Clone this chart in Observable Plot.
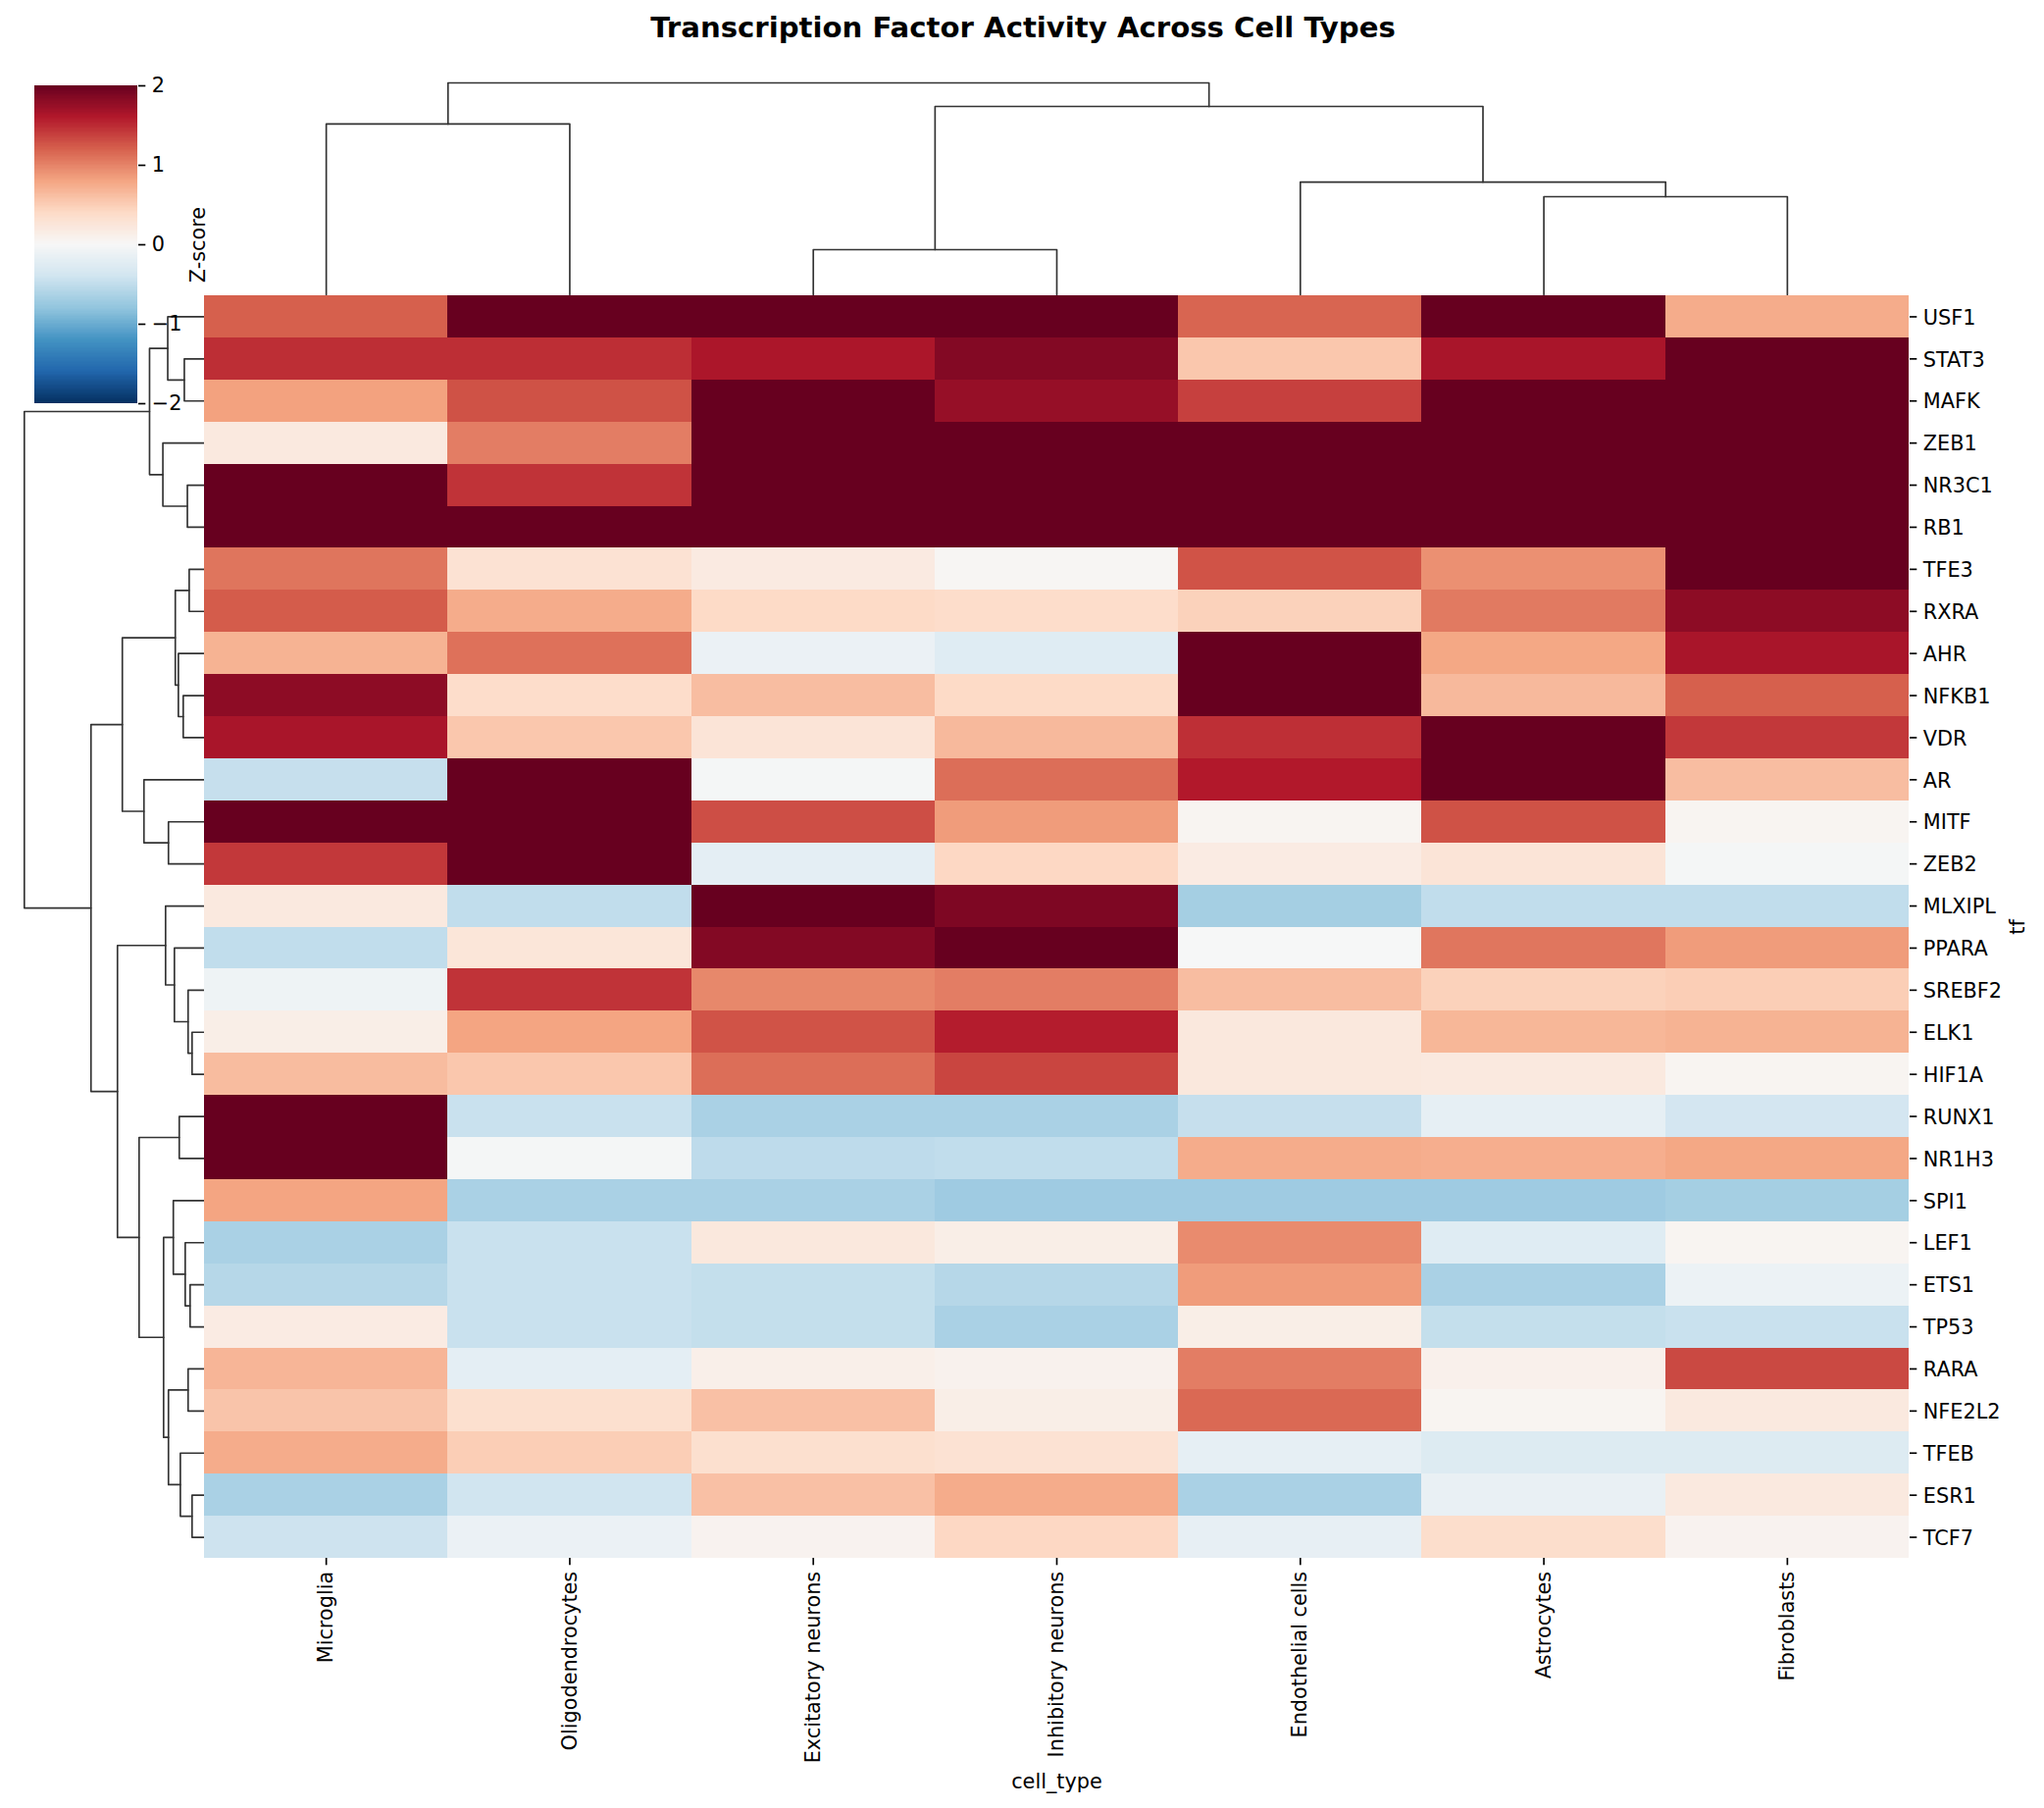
<!DOCTYPE html>
<html>
<head>
<meta charset="utf-8">
<script src="https://cdn.jsdelivr.net/npm/d3@7"></script>
<script src="https://cdn.jsdelivr.net/npm/@observablehq/plot@0.6"></script>
<style>
  html, body { margin: 0; padding: 0; background: #fff; }
  #fig { position: relative; width: 2084px; height: 1843px; overflow: hidden; font-family: "DejaVu Sans", sans-serif; color: #000; }
  #fig > .panel { position: absolute; }
  #fig svg { max-width: none; overflow: visible; background: transparent; display: block; }
  h1 { position: absolute; left: 0; width: 2086px; top: 8px; margin: 0; text-align: center; font: bold 29.17px/40px "DejaVu Sans", sans-serif; }
</style>
</head>
<body>
<div id="fig"><h1>Transcription Factor Activity Across Cell Types</h1></div>
<script>
const cellTypes = ["Microglia","Oligodendrocytes","Excitatory neurons","Inhibitory neurons","Endothelial cells","Astrocytes","Fibroblasts"];
const tfs = ["USF1","STAT3","MAFK","ZEB1","NR3C1","RB1","TFE3","RXRA","AHR","NFKB1","VDR","AR","MITF","ZEB2","MLXIPL","PPARA","SREBF2","ELK1","HIF1A","RUNX1","NR1H3","SPI1","LEF1","ETS1","TP53","RARA","NFE2L2","TFEB","ESR1","TCF7"];

const microglia   = [1.2,1.48,.82,.2,2,2,1.08,1.22,.7,1.8,1.65,-.47,2,1.42,.2,-.5,-.1,.13,.63,2,2,.8,-.65,-.57,.17,.68,.57,.75,-.65,-.42];
const oligodendro = [2,1.48,1.28,1.03,1.45,2,.3,.75,1.1,.37,.55,2,2,2,-.5,.25,1.45,.8,.55,-.45,-.03,-.65,-.45,-.45,-.45,-.2,.33,.5,-.4,-.13];
const excitatory  = [2,1.63,2,2,2,2,.18,.4,-.13,.62,.27,-.03,1.3,-.2,2,1.85,.97,1.27,1.12,-.65,-.52,-.65,.22,-.48,-.48,.12,.6,.33,.6,.07];
const inhibitory  = [2,1.85,1.75,2,2,2,.03,.37,-.25,.4,.65,1.12,.85,.42,1.88,2,1.03,1.58,1.35,-.65,-.5,-.72,.13,-.57,-.65,.08,.13,.3,.75,.42];
const endothelial = [1.17,.55,1.38,2,2,2,1.27,.47,2,2,1.47,1.6,.05,.17,-.68,-.01,.62,.22,.22,-.47,.75,-.72,.95,.85,.13,1.03,1.15,-.18,-.65,-.17];
const astrocytes  = [2,1.65,2,2,2,2,.92,1.05,.78,.65,2,2,1.28,.27,-.5,1.07,.47,.67,.2,-.18,.73,-.72,-.25,-.65,-.48,.1,.05,-.27,-.15,.36];
const fibroblasts = [.75,2,2,2,2,2,2,1.8,1.65,1.2,1.42,.62,.05,-.03,-.5,.85,.5,.7,.05,-.37,.78,-.68,.05,-.12,-.45,1.33,.2,-.27,.2,.07];
const columns = [microglia,oligodendro,excitatory,inhibitory,endothelial,astrocytes,fibroblasts];

// Dendrograms: [height, left, right]; a leaf is a label.
const colTree = [1,
  [.806,"Microglia","Oligodendrocytes"],
  [.889,
    [.213,"Excitatory neurons","Inhibitory neurons"],
    [.532,"Endothelial cells",[.463,"Astrocytes","Fibroblasts"]]]];
const rowTree = [1,
  [.305,
    [.204,"USF1",[.112,"STAT3","MAFK"]],
    [.231,"ZEB1",[.095,"NR3C1","RB1"]]],
  [.630,
    [.456,
      [.162,[.085,"TFE3","RXRA"],[.145,"AHR",[.118,"NFKB1","VDR"]]],
      [.336,"AR",[.200,"MITF","ZEB2"]]],
    [.483,
      [.216,"MLXIPL",[.167,"PPARA",[.091,"SREBF2",[.069,"ELK1","HIF1A"]]]],
      [.363,
        [.140,"RUNX1","NR1H3"],
        [.227,
          [.173,"SPI1",[.107,"LEF1",[.080,"ETS1","TP53"]]],
          [.200,[.091,"RARA","NFE2L2"],[.134,"TFEB",[.069,"ESR1","TCF7"]]]]]]]];

const rdbuStops = ["#053061","#2166ac","#4393c3","#92c5de","#d1e5f0","#f7f7f7","#fddbc7","#f4a582","#d6604d","#b2182b","#67001f"];
const rdbuDomain = d3.range(11).map(i => -2 + i * 0.4);
const colorbarTicks = [-2,-1,0,1,2];

const FONT = 20.8, TICK = 7.3, LW = 1.67, LINK = "#333333";
const baseStyle = {fontFamily: '"DejaVu Sans", sans-serif', fontSize: FONT + "px", background: "transparent", color: "#000"};
const colorOpt = {type: "linear", domain: rdbuDomain, range: rdbuStops, clamp: true, interpolate: "rgb"};

const heat = cellTypes.flatMap((c, i) => tfs.map((t, j) => ({cell: c, tf: t, z: columns[i][j]})));

function links(tree, order) {
  const out = []; let id = 0;
  const walk = n => {
    if (typeof n === "string") return {h: 0, p: order.indexOf(n) + 0.5};
    const a = walk(n[1]), b = walk(n[2]), k = id++;
    out.push({k, h: a.h, p: a.p}, {k, h: n[0], p: a.p}, {k, h: n[0], p: b.p}, {k, h: b.h, p: b.p});
    return {h: n[0], p: (a.p + b.p) / 2};
  };
  walk(tree);
  return out;
}

const fig = document.getElementById("fig");
function place(node, left, top) {
  const d = document.createElement("div");
  d.className = "panel"; d.style.left = left + "px"; d.style.top = top + "px";
  d.appendChild(node); fig.appendChild(d);
}

// Left dendrogram
place(Plot.plot({
  width: 208, height: 1287, margin: 0, marginLeft: 24.3, style: baseStyle,
  x: {domain: [1, 0], axis: null}, y: {domain: [30, 0], axis: null},
  marks: [Plot.line(links(rowTree, tfs), {x: "h", y: "p", z: "k", stroke: LINK, strokeWidth: LW, curve: "linear"})]
}), 0, 301);

// Top dendrogram
place(Plot.plot({
  width: 1738, height: 216, margin: 0, style: baseStyle,
  x: {domain: [0, 7], axis: null}, y: {domain: [0, 1], axis: null},
  marks: [Plot.line(links(colTree, cellTypes), {x: "p", y: "h", z: "k", stroke: LINK, strokeWidth: LW, curve: "linear"})]
}), 208, 84);

// Heatmap
place(Plot.plot({
  width: 1876, height: 1542, marginLeft: 0, marginTop: 0, marginRight: 138, marginBottom: 255, style: baseStyle,
  x: {domain: cellTypes, padding: 0, round: false}, y: {domain: tfs, padding: 0, round: false},
  color: colorOpt,
  marks: [
    Plot.cell(heat, {x: "cell", y: "tf", fill: "z", shapeRendering: "crispEdges"}),
    Plot.axisX({anchor: "bottom", tickRotate: -90, tickSize: TICK, tickPadding: 6, strokeWidth: LW, fontSize: FONT,
      label: "cell_type", labelAnchor: "center", labelArrow: "none", labelOffset: 234}),
    Plot.axisY({anchor: "right", tickSize: TICK, fill: "none", label: null, strokeWidth: LW}),
    Plot.axisY({anchor: "right", tickSize: 0, tickPadding: TICK + 7, dy: 1, fontSize: FONT,
      label: "tf", labelAnchor: "center", labelArrow: "none", labelOffset: 117})
  ]
}), 208, 301);

// Colorbar
place(Plot.plot({
  width: 175, height: 324, marginLeft: 0, marginTop: 0, marginBottom: 0, marginRight: 70, style: baseStyle,
  x: {domain: [0, 1], axis: null},
  y: {domain: [-2, 2]},
  color: colorOpt,
  marks: [
    Plot.rect(d3.range(256), {
      x1: 0, x2: 1,
      y1: i => -2 + 4 * i / 256, y2: i => -2 + 4 * (i + 1) / 256,
      fill: i => -2 + 4 * (i + 0.5) / 256, shapeRendering: "crispEdges"
    }),
    Plot.axisY(colorbarTicks, {anchor: "right", tickSize: TICK, tickPadding: 7, strokeWidth: LW, fontSize: FONT,
      tickFormat: d => d < 0 ? "\u2212" + (-d) : String(d),
      label: "Z-score", labelAnchor: "center", labelArrow: "none", labelOffset: 68})
  ]
}), 35, 87);
</script>
</body>
</html>
